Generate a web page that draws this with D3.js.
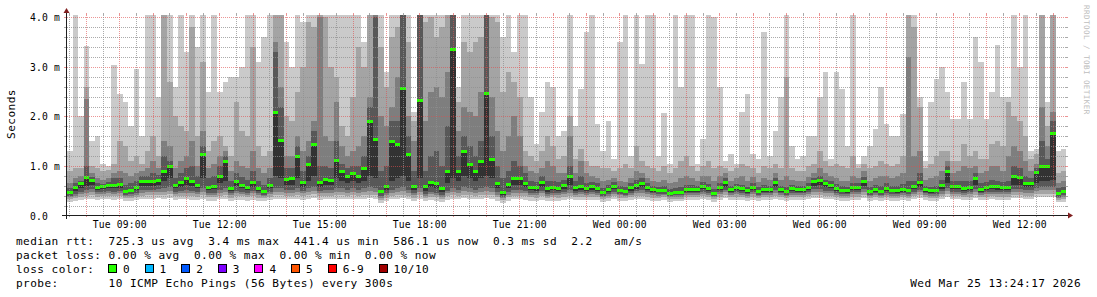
<!DOCTYPE html>
<html><head><meta charset="utf-8">
<script src="https://cdn.jsdelivr.net/npm/d3@7"></script>
<style>
html,body{margin:0;padding:0;background:#fff;}
svg{display:block;}
text{font-family:"DejaVu Sans Mono",monospace;fill:#000;}
</style></head><body>
<svg id="chart" width="1097" height="297"></svg>
<script>
// ---------------- DATA (ms) ----------------
// 10-minute consolidated steps, starting Tue 07:26 (UTC used as local clock)
const stepSeconds = 600;
const median = [
0.48,0.57,0.65,0.77,0.72,0.57,0.59,0.61,0.62,0.63,0.50,0.52,0.58,0.70,0.69,0.69,0.71,0.90,1.00,0.62,0.68,0.75,0.70,0.62,1.25,0.58,0.59,0.80,1.10,0.56,0.70,0.62,0.57,0.68,0.56,0.50,0.62,2.10,1.52,0.74,0.75,1.20,0.67,1.05,1.45,
0.67,0.73,0.72,1.12,0.90,0.80,0.85,0.80,0.95,1.90,1.55,0.50,0.60,1.50,1.45,2.57,1.25,0.60,2.34,0.60,0.68,0.65,0.55,0.90,3.36,0.90,1.30,1.05,0.90,1.10,2.47,1.15,0.65,0.48,0.63,0.75,0.75,0.65,0.58,0.57,0.68,0.55,0.58,0.56,0.62,
0.80,0.58,0.60,0.56,0.59,0.56,0.47,0.54,0.60,0.52,0.49,0.57,0.61,0.66,0.58,0.53,0.52,0.52,0.46,0.47,0.48,0.54,0.54,0.53,0.60,0.55,0.46,0.58,0.68,0.53,0.57,0.55,0.51,0.58,0.50,0.54,0.53,0.67,0.53,0.50,0.55,0.54,0.53,0.58,0.70,
0.72,0.65,0.62,0.55,0.52,0.51,0.58,0.58,0.70,0.50,0.53,0.50,0.56,0.52,0.51,0.54,0.52,0.60,0.68,0.53,0.51,0.52,0.62,0.90,0.60,0.60,0.56,0.57,0.75,0.54,0.57,0.60,0.59,0.58,0.58,0.80,0.78,0.66,0.66,0.88,0.99,1.00,1.66,0.46,0.50];
const ping7 = [
0.55,0.65,0.70,1.00,0.78,0.65,0.63,0.68,0.75,0.75,0.62,0.65,0.70,0.80,0.80,0.85,0.82,1.20,1.10,0.75,0.85,0.95,1.00,0.80,1.40,0.75,0.80,1.00,1.20,0.70,0.85,0.78,0.72,0.90,0.70,0.62,0.75,3.30,2.20,0.95,0.95,1.40,0.90,1.20,1.70,
1.00,1.00,0.95,1.50,1.05,0.95,1.00,1.00,1.20,2.20,4.00,0.90,1.00,1.90,1.90,4.20,1.60,0.90,4.10,0.90,1.20,1.30,1.00,1.80,4.20,1.20,1.60,1.40,1.20,1.50,4.20,1.60,1.00,0.75,0.90,1.10,1.00,0.85,0.70,0.68,0.80,0.70,0.70,0.68,0.72,
1.00,0.70,0.80,0.65,0.68,0.65,0.55,0.62,0.67,0.60,0.57,0.65,0.72,0.75,0.66,0.60,0.58,0.60,0.54,0.55,0.57,0.62,0.62,0.60,0.68,0.63,0.54,0.66,0.75,0.60,0.64,0.62,0.58,0.66,0.57,0.62,0.60,0.75,0.60,0.58,0.62,0.60,0.60,0.65,0.76,
0.80,0.72,0.70,0.63,0.60,0.58,0.66,0.65,0.78,0.58,0.62,0.60,0.65,0.60,0.60,0.64,0.70,0.70,0.85,0.60,0.58,0.60,0.72,1.00,0.70,0.70,0.70,0.70,0.85,0.65,0.68,0.72,0.70,0.68,0.70,1.00,0.95,0.80,0.75,0.95,1.50,1.15,1.90,0.55,0.58];
const ping8 = [
0.65,0.75,0.80,2.35,0.85,0.75,0.72,0.75,0.85,0.90,0.85,0.80,0.85,0.90,0.95,1.10,0.95,1.50,1.40,0.95,1.10,1.20,1.50,1.00,1.70,0.95,1.05,1.20,1.30,0.90,1.10,1.00,0.95,1.30,0.95,0.85,0.95,3.50,2.60,1.20,1.20,1.60,1.30,1.50,1.90,
4.00,1.60,1.50,2.30,1.40,1.20,1.30,1.40,1.60,2.40,4.20,2.00,1.80,2.20,2.80,4.20,2.00,1.50,4.20,1.90,2.50,2.60,2.40,2.90,4.20,1.70,2.20,2.10,2.00,2.50,4.20,2.40,1.70,1.30,1.60,2.00,1.60,1.00,0.90,0.85,0.95,1.10,1.00,0.85,0.85,
1.60,0.85,1.10,0.85,0.80,0.75,0.70,0.72,0.75,0.70,0.68,0.75,0.90,0.85,0.75,0.70,0.68,0.72,0.65,0.68,0.75,0.80,0.75,0.70,0.80,0.80,0.70,0.80,0.85,0.70,0.75,0.80,0.70,0.78,0.68,0.75,0.72,0.85,0.72,0.80,0.72,0.70,0.70,0.78,0.85,
0.95,0.85,0.80,0.75,0.70,0.70,0.80,0.75,0.90,0.70,0.75,0.80,0.80,0.75,0.80,0.85,3.20,1.20,1.30,0.72,0.75,0.80,0.90,1.10,0.85,0.90,1.00,0.95,1.00,0.85,0.90,1.00,1.00,0.90,1.20,1.40,1.30,1.10,0.90,1.05,2.20,1.40,2.10,0.65,0.70];
const ping9 = [
0.90,0.95,0.95,2.60,1.00,0.95,0.90,0.92,1.05,1.50,1.40,1.10,1.20,1.05,1.30,1.60,1.20,4.20,2.70,2.00,1.80,1.70,3.80,1.60,3.10,1.30,1.50,1.60,1.40,1.20,2.30,1.70,1.60,3.40,1.40,1.20,1.30,4.20,4.20,2.00,1.90,2.50,3.00,3.90,3.80,
4.20,4.00,3.00,2.80,1.80,1.60,2.40,3.40,3.00,4.20,4.20,3.40,2.60,3.60,3.80,4.20,3.50,1.90,4.20,3.90,4.00,3.60,3.80,4.20,4.20,2.30,3.50,3.30,3.50,3.60,4.20,4.00,3.90,2.50,2.90,2.70,2.40,1.30,1.20,1.10,1.30,1.60,1.40,1.15,1.20,
2.00,1.15,1.35,1.10,1.00,1.00,0.95,0.95,0.90,0.95,1.05,0.95,1.40,1.10,1.00,0.95,0.90,1.00,0.85,0.95,1.10,1.20,1.00,0.90,1.00,1.10,0.95,1.00,0.95,0.90,0.95,1.05,1.00,0.95,0.85,1.00,0.95,1.05,0.95,2.80,0.95,0.90,0.90,1.00,1.05,
1.30,1.10,1.00,1.05,1.00,0.95,1.20,0.95,1.05,0.95,1.00,1.10,1.05,1.00,1.05,1.20,4.20,3.80,2.20,0.95,1.05,1.20,1.30,1.30,1.10,1.10,1.45,1.20,1.30,1.15,1.15,1.45,1.50,1.40,2.30,2.00,1.90,1.60,1.15,1.25,4.20,1.80,4.20,0.85,0.90];
const ping10 = [
1.30,4.20,2.00,3.43,1.50,1.60,1.05,1.00,3.05,2.45,2.30,1.80,2.95,1.60,4.20,4.20,2.40,4.20,4.20,2.60,4.20,3.30,4.20,3.40,4.20,2.50,4.20,2.50,2.70,2.80,2.80,3.00,4.20,4.20,3.10,3.60,4.20,4.20,4.20,3.50,3.00,4.20,3.90,4.20,4.20,
4.20,4.20,4.20,4.20,4.20,4.20,4.20,4.20,3.50,4.20,4.20,4.20,2.90,4.20,4.20,4.20,4.20,2.10,4.20,4.20,4.20,4.20,4.20,4.20,4.20,2.60,4.20,4.20,4.20,4.20,4.20,4.20,4.20,3.60,4.20,3.30,4.20,4.20,2.40,1.45,2.10,2.70,2.60,1.60,1.70,
4.20,1.80,2.55,3.70,4.20,1.85,1.30,1.90,1.15,3.50,4.20,1.20,4.20,3.06,4.20,4.20,1.20,2.08,1.05,4.20,2.60,4.20,4.20,1.05,1.55,4.20,4.00,2.60,1.10,1.25,1.05,2.10,2.45,1.25,1.15,3.70,1.20,1.70,2.40,4.20,1.40,1.15,1.20,1.60,1.60,
2.40,2.90,1.15,2.90,2.55,1.40,4.20,1.05,1.20,1.40,1.75,2.60,1.85,1.60,1.60,2.05,4.20,4.20,2.40,1.10,2.30,2.75,3.00,2.50,1.95,1.95,2.70,1.95,3.60,3.10,1.95,2.50,3.45,2.40,2.40,4.20,3.00,4.20,1.30,1.35,4.20,2.30,4.20,1.30,1.35];
const ping5 = [
0.44,0.50,0.55,0.60,0.62,0.52,0.53,0.55,0.55,0.56,0.46,0.47,0.52,0.60,0.60,0.60,0.62,0.70,0.75,0.55,0.58,0.62,0.60,0.55,0.75,0.52,0.53,0.65,0.70,0.50,0.60,0.55,0.52,0.58,0.50,0.46,0.55,0.80,0.75,0.62,0.62,0.75,0.58,0.70,0.80,
0.58,0.62,0.62,0.75,0.70,0.65,0.70,0.65,0.70,0.80,0.75,0.45,0.52,0.70,0.75,0.80,0.70,0.52,0.75,0.50,0.58,0.55,0.48,0.65,0.75,0.70,0.80,0.75,0.70,0.75,0.80,0.75,0.55,0.42,0.55,0.62,0.62,0.57,0.52,0.50,0.58,0.48,0.51,0.50,0.54,
0.62,0.50,0.52,0.50,0.52,0.50,0.43,0.48,0.53,0.47,0.45,0.50,0.54,0.57,0.52,0.48,0.47,0.47,0.42,0.43,0.44,0.48,0.48,0.48,0.53,0.49,0.42,0.52,0.58,0.48,0.51,0.49,0.46,0.52,0.45,0.48,0.48,0.57,0.48,0.45,0.49,0.48,0.48,0.52,0.60,
0.62,0.57,0.55,0.49,0.47,0.46,0.51,0.52,0.60,0.45,0.48,0.45,0.50,0.47,0.46,0.48,0.47,0.53,0.58,0.48,0.46,0.47,0.54,0.65,0.53,0.53,0.50,0.51,0.62,0.48,0.51,0.53,0.52,0.52,0.52,0.62,0.62,0.57,0.57,0.65,0.70,0.70,0.72,0.41,0.45];
const ping4 = [
0.40,0.44,0.48,0.52,0.53,0.47,0.48,0.49,0.48,0.49,0.42,0.43,0.46,0.51,0.52,0.52,0.53,0.55,0.58,0.48,0.50,0.52,0.50,0.48,0.55,0.46,0.46,0.52,0.55,0.45,0.50,0.48,0.46,0.50,0.45,0.42,0.47,0.55,0.55,0.52,0.52,0.55,0.50,0.55,0.58,
0.50,0.52,0.52,0.55,0.55,0.52,0.55,0.52,0.55,0.58,0.55,0.40,0.45,0.52,0.55,0.58,0.52,0.45,0.55,0.44,0.48,0.46,0.42,0.50,0.55,0.52,0.58,0.55,0.52,0.55,0.58,0.55,0.47,0.38,0.47,0.52,0.52,0.50,0.46,0.45,0.50,0.44,0.46,0.45,0.48,
0.52,0.46,0.47,0.46,0.47,0.46,0.40,0.44,0.48,0.44,0.42,0.46,0.49,0.51,0.47,0.45,0.44,0.44,0.40,0.41,0.41,0.45,0.45,0.45,0.48,0.45,0.40,0.47,0.52,0.45,0.47,0.46,0.43,0.47,0.42,0.45,0.45,0.51,0.45,0.42,0.45,0.45,0.45,0.48,0.53,
0.54,0.50,0.49,0.45,0.44,0.43,0.47,0.47,0.53,0.42,0.45,0.42,0.46,0.44,0.43,0.45,0.44,0.48,0.52,0.45,0.43,0.44,0.49,0.55,0.48,0.48,0.46,0.47,0.54,0.45,0.47,0.48,0.47,0.47,0.47,0.54,0.54,0.51,0.51,0.55,0.58,0.58,0.58,0.38,0.42];
const ping3 = [
0.37,0.40,0.43,0.46,0.47,0.43,0.44,0.45,0.44,0.45,0.39,0.40,0.42,0.46,0.47,0.47,0.48,0.48,0.50,0.44,0.45,0.46,0.45,0.44,0.48,0.42,0.42,0.46,0.48,0.41,0.45,0.44,0.42,0.45,0.41,0.39,0.43,0.48,0.48,0.46,0.46,0.48,0.45,0.48,0.50,
0.45,0.46,0.46,0.48,0.48,0.46,0.48,0.46,0.48,0.50,0.48,0.36,0.41,0.46,0.48,0.50,0.46,0.41,0.48,0.40,0.43,0.42,0.38,0.45,0.48,0.46,0.50,0.48,0.46,0.48,0.50,0.48,0.42,0.35,0.42,0.46,0.46,0.45,0.42,0.41,0.45,0.40,0.42,0.41,0.44,
0.46,0.42,0.43,0.42,0.43,0.42,0.37,0.40,0.44,0.41,0.39,0.42,0.45,0.46,0.43,0.41,0.40,0.41,0.37,0.38,0.38,0.41,0.41,0.41,0.44,0.41,0.37,0.43,0.47,0.41,0.43,0.42,0.40,0.43,0.39,0.41,0.41,0.46,0.41,0.39,0.41,0.41,0.41,0.44,0.48,
0.48,0.45,0.45,0.41,0.40,0.39,0.43,0.43,0.48,0.39,0.41,0.39,0.42,0.40,0.39,0.41,0.40,0.44,0.47,0.41,0.39,0.40,0.44,0.49,0.44,0.44,0.42,0.43,0.48,0.41,0.43,0.44,0.43,0.43,0.43,0.48,0.48,0.46,0.46,0.49,0.51,0.51,0.51,0.35,0.38];
const ping2 = [
0.34,0.36,0.38,0.40,0.41,0.38,0.39,0.40,0.39,0.40,0.35,0.36,0.37,0.40,0.41,0.41,0.42,0.41,0.43,0.39,0.40,0.40,0.39,0.38,0.41,0.37,0.37,0.40,0.41,0.36,0.39,0.39,0.37,0.39,0.36,0.35,0.38,0.41,0.41,0.40,0.40,0.41,0.39,0.41,0.43,
0.39,0.40,0.40,0.41,0.41,0.40,0.41,0.40,0.41,0.42,0.41,0.32,0.36,0.40,0.41,0.42,0.40,0.36,0.41,0.35,0.38,0.37,0.34,0.39,0.41,0.40,0.42,0.41,0.40,0.41,0.42,0.41,0.37,0.31,0.37,0.40,0.40,0.39,0.37,0.36,0.39,0.35,0.37,0.36,0.38,
0.40,0.37,0.38,0.37,0.38,0.37,0.33,0.36,0.39,0.36,0.35,0.37,0.39,0.40,0.38,0.36,0.36,0.37,0.33,0.34,0.34,0.37,0.37,0.37,0.39,0.37,0.33,0.38,0.41,0.37,0.38,0.37,0.36,0.38,0.35,0.37,0.37,0.40,0.37,0.35,0.37,0.37,0.37,0.39,0.42,
0.42,0.40,0.40,0.37,0.36,0.35,0.38,0.38,0.42,0.35,0.37,0.35,0.37,0.36,0.35,0.37,0.36,0.39,0.41,0.37,0.35,0.36,0.39,0.43,0.39,0.39,0.37,0.38,0.42,0.37,0.38,0.39,0.38,0.38,0.38,0.42,0.42,0.40,0.40,0.43,0.44,0.44,0.44,0.32,0.34];
const ping1 = [
0.28,0.30,0.32,0.33,0.34,0.32,0.33,0.34,0.32,0.33,0.29,0.30,0.31,0.33,0.34,0.34,0.35,0.33,0.35,0.32,0.33,0.33,0.32,0.31,0.33,0.30,0.30,0.33,0.34,0.29,0.32,0.32,0.30,0.32,0.29,0.29,0.31,0.33,0.33,0.33,0.33,0.34,0.32,0.34,0.35,
0.32,0.33,0.33,0.34,0.34,0.33,0.34,0.33,0.34,0.35,0.34,0.26,0.30,0.33,0.34,0.35,0.33,0.30,0.34,0.29,0.31,0.30,0.28,0.32,0.34,0.33,0.35,0.34,0.33,0.34,0.35,0.34,0.30,0.25,0.30,0.33,0.33,0.32,0.30,0.30,0.32,0.29,0.30,0.30,0.32,
0.33,0.31,0.32,0.31,0.32,0.31,0.28,0.30,0.33,0.30,0.29,0.31,0.33,0.34,0.32,0.30,0.30,0.31,0.28,0.29,0.29,0.31,0.31,0.31,0.33,0.31,0.28,0.32,0.35,0.31,0.32,0.31,0.30,0.32,0.29,0.31,0.31,0.34,0.31,0.29,0.31,0.31,0.31,0.33,0.36,
0.36,0.34,0.34,0.31,0.30,0.29,0.32,0.32,0.36,0.29,0.31,0.29,0.31,0.30,0.29,0.31,0.30,0.33,0.35,0.31,0.29,0.30,0.33,0.37,0.33,0.33,0.31,0.32,0.36,0.31,0.32,0.33,0.32,0.32,0.32,0.36,0.36,0.34,0.34,0.37,0.38,0.38,0.38,0.27,0.28];

const yTicks = [0, 1, 2, 3, 4];
const yTickLabels = ["0.0", "1.0 m", "2.0 m", "3.0 m", "4.0 m"];
const xTickLabels = ["Tue 09:00","Tue 12:00","Tue 15:00","Tue 18:00","Tue 21:00","Wed 00:00","Wed 03:00","Wed 06:00","Wed 09:00","Wed 12:00"];
const lossLabels = ["0","1","2","3","4","5","6-9","10/10"];
const lossColors = ["#26ff00","#00b8ff","#0059ff","#7e00ff","#ff00ff","#ff5500","#ff0000","#a10000"];
const legendLines = [
  "median rtt:  725.3 us avg  3.4 ms max  441.4 us min  586.1 us now  0.3 ms sd  2.2   am/s",
  "packet loss: 0.00 % avg  0.00 % max  0.00 % min  0.00 % now",
  "loss color:",
  "probe:       10 ICMP Echo Pings (56 Bytes) every 300s"
];
const stampText = "Wed Mar 25 13:24:17 2026";
const watermarkText = "RRDTOOL / TOBI OETIKER";
const yTitle = "Seconds";

// ---------------- LAYOUT ----------------
const X0 = 66, X1 = 1066, Y0 = 215, YT = 15;
const svg = d3.select("#chart");
const H = 3600 * 1000;
const tStart = new Date(Date.UTC(2026, 2, 24, 7, 24, 17));
const tEnd = new Date(Date.UTC(2026, 2, 25, 13, 24, 17));
const dataStart = Date.UTC(2026, 2, 24, 7, 26, 0);
const x = d3.scaleUtc().domain([tStart, tEnd]).range([X0, X1]);
const y = d3.scaleLinear().domain([0, 4.04]).range([Y0 + 0.5, YT + 0.5]);

svg.append("rect").attr("width", 1097).attr("height", 297).attr("fill", "#fff");
svg.append("defs").append("clipPath").attr("id", "plotclip")
  .append("rect").attr("x", X0 + 1).attr("y", YT).attr("width", X1 - X0 - 1).attr("height", Y0 - YT);

const plot = svg.append("g").attr("clip-path", "url(#plotclip)").attr("shape-rendering", "crispEdges");
const N = median.length;
const tAt = i => new Date(dataStart + i * stepSeconds * 1000);

const bands = [
  {lo: ping1, hi: ping10, color: "#cacaca"},
  {lo: ping2, hi: ping9, color: "#a4a4a4"},
  {lo: ping3, hi: ping8, color: "#7e7e7e"},
  {lo: ping4, hi: ping7, color: "#585858"},
  {lo: ping5, hi: median, color: "#323232"}
];
bands.forEach(b => {
  plot.append("g").attr("fill", b.color)
    .selectAll("rect").data(d3.range(N)).join("rect")
    .attr("x", i => Math.round(x(tAt(i))))
    .attr("width", i => Math.round(x(tAt(i + 1))) - Math.round(x(tAt(i))))
    .attr("y", i => Math.round(y(b.hi[i])))
    .attr("height", i => Math.max(1, Math.round(y(b.lo[i])) - Math.round(y(b.hi[i]))));
});
// median (loss 0 -> green)
plot.append("g").attr("fill", lossColors[0])
  .selectAll("rect").data(d3.range(N)).join("rect")
  .attr("x", i => Math.round(x(tAt(i))))
  .attr("width", i => Math.round(x(tAt(i + 1))) - Math.round(x(tAt(i))))
  .attr("y", i => Math.round(y(median[i])) - 1.5)
  .attr("height", 3);

// ---------------- GRID (on top, rrdtool style) ----------------
const gridCol = "rgba(143,143,143,0.75)", mgridCol = "rgba(222,79,79,0.6)";
const grid = svg.append("g").attr("shape-rendering", "crispEdges");
const minorY = d3.range(1, 21).map(k => k * 0.2).filter(v => Math.abs(v - Math.round(v)) > 1e-6);
const majorY = yTicks.filter(v => v > 0);
function hline(v, col) {
  const yy = Math.round(y(v)) + 0.5;
  grid.append("line").attr("x1", X0 + 1).attr("x2", X1).attr("y1", yy).attr("y2", yy)
    .attr("stroke", col).attr("stroke-dasharray", "1,1");
  grid.append("line").attr("x1", X0 - 2).attr("x2", X0).attr("y1", yy).attr("y2", yy).attr("stroke", col);
  grid.append("line").attr("x1", X1).attr("x2", X1 + 2).attr("y1", yy).attr("y2", yy).attr("stroke", col);
}
minorY.forEach(v => hline(v, gridCol));
majorY.forEach(v => hline(v, mgridCol));
const halfHours = d3.utcMinute.every(30).range(tStart, tEnd).filter(d => d.getUTCMinutes() === 30);
const hours = d3.utcHour.range(tStart, tEnd);
function vline(d, col) {
  const xx = Math.round(x(d)) + 0.5;
  grid.append("line").attr("x1", xx).attr("x2", xx).attr("y1", YT).attr("y2", Y0)
    .attr("stroke", col).attr("stroke-dasharray", "1,1");
  grid.append("line").attr("x1", xx).attr("x2", xx).attr("y1", Y0).attr("y2", Y0 + 2).attr("stroke", col);
  grid.append("line").attr("x1", xx).attr("x2", xx).attr("y1", YT - 2).attr("y2", YT).attr("stroke", col);
}
halfHours.forEach(d => vline(d, gridCol));
hours.forEach(d => vline(d, mgridCol));

// ---------------- AXES ----------------
const axisCol = "rgb(31,31,31)", arrowCol = "rgb(128,31,31)";
svg.append("line").attr("x1", X0 - 4).attr("x2", X1 + 4).attr("y1", Y0 + 0.5).attr("y2", Y0 + 0.5)
  .attr("stroke", axisCol).attr("shape-rendering", "crispEdges");
svg.append("line").attr("x1", X0 + 0.5).attr("x2", X0 + 0.5).attr("y1", Y0 + 4).attr("y2", YT - 4)
  .attr("stroke", axisCol).attr("shape-rendering", "crispEdges");
svg.append("path").attr("d", `M${X1 + 2},${Y0 - 2.5}L${X1 + 2},${Y0 + 3.5}L${X1 + 7},${Y0 + 0.5}Z`).attr("fill", arrowCol);
svg.append("path").attr("d", `M${X0 - 2.5},${YT - 2}L${X0 + 3.5},${YT - 2}L${X0 + 0.5},${YT - 7}Z`).attr("fill", arrowCol);

const xTickTimes = xTickLabels.map((_, i) => new Date(Date.UTC(2026, 2, 24, 9) + i * 3 * H));
const gx = svg.append("g").attr("transform", `translate(0,${Y0})`)
  .call(d3.axisBottom(x).tickValues(xTickTimes).tickFormat((d, i) => xTickLabels[i]).tickSize(0));
gx.select(".domain").remove();
gx.selectAll("text").attr("y", 12.5).attr("dy", null)
  .style("font-family", '"DejaVu Sans Mono", monospace').style("font-size", "9.7px")
  .style("letter-spacing", "0.16px").attr("fill", "#000");

const gy = svg.append("g").attr("transform", `translate(${X0},0)`)
  .call(d3.axisLeft(y).tickValues(yTicks).tickFormat((d, i) => yTickLabels[i]).tickSize(0));
gy.select(".domain").remove();
gy.selectAll("text").attr("x", 30 - X0).attr("dy", "0.36em").attr("text-anchor", "start")
  .style("font-family", '"DejaVu Sans Mono", monospace').style("font-size", "9.7px")
  .style("letter-spacing", "0.16px").attr("fill", "#000");

// ---------------- TEXTS ----------------
const legFont = {size: "11.1px", ls: "0.44px"};
svg.append("text").attr("transform", "translate(15,114) rotate(-90)").attr("text-anchor", "middle")
  .style("font-size", legFont.size).style("letter-spacing", legFont.ls).text(yTitle);

svg.append("text").attr("transform", "translate(1084,5) rotate(90)")
  .style("font-size", "7.6px").style("letter-spacing", "0.42px").attr("fill", "#bdbdbd")
  .style("fill", "#bdbdbd").text(watermarkText);

const baselines = [244.5, 258.5, 272.5, 286.5];
legendLines.forEach((t, i) => {
  svg.append("text").attr("x", 16).attr("y", baselines[i]).attr("xml:space", "preserve")
    .style("white-space", "pre").style("font-size", legFont.size).style("letter-spacing", legFont.ls).text(t);
});
let bx = 108.5;
const adv = 7.12;
lossLabels.forEach((lab, i) => {
  svg.append("rect").attr("x", bx).attr("y", 264.5).attr("width", 8).attr("height", 8)
    .attr("fill", lossColors[i]).attr("stroke", "#000").attr("stroke-width", 1).attr("shape-rendering", "crispEdges");
  svg.append("text").attr("x", bx + 14.5).attr("y", baselines[2])
    .style("font-size", legFont.size).style("letter-spacing", legFont.ls).text(lab);
  bx = bx + 14.5 + lab.length * adv + 15;
});
svg.append("text").attr("x", 1081).attr("y", baselines[3]).attr("text-anchor", "end")
  .style("font-size", legFont.size).style("letter-spacing", legFont.ls).text(stampText);

// sanity check of data lengths
const all = {median, ping1, ping2, ping3, ping4, ping5, ping7, ping8, ping9, ping10};
const bad = Object.entries(all).filter(([k, v]) => v.length !== N).map(([k, v]) => k + ":" + v.length);
if (bad.length) throw new Error("length mismatch " + bad.join(",") + " N=" + N);
</script>
</body></html>
